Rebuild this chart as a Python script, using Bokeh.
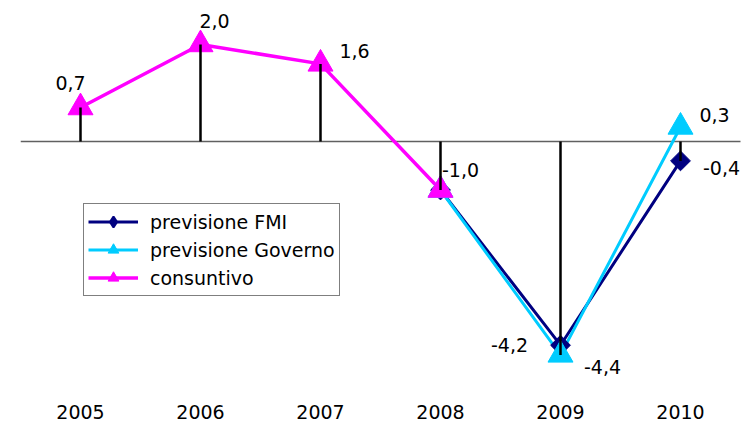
import math
from bokeh.plotting import figure
from bokeh.models import (ColumnDataSource, Range1d, FixedTicker, Legend, LegendItem)
from bokeh.core.properties import value
from bokeh.embed import file_html
from bokeh.resources import INLINE

nan = float("nan")
years = ["2005", "2006", "2007", "2008", "2009", "2010"]
consuntivo = [0.7, 2.0, 1.6, -1.0, nan, nan]
prev_fmi = [nan, nan, nan, -1.0, -4.2, -0.4]
prev_governo = [nan, nan, nan, -1.0, -4.4, 0.3]

xs = list(range(len(years)))

FONT = "DejaVu Sans"

p = figure(width=749, height=425, output_backend="svg", toolbar_location=None,
           x_range=Range1d(-0.5, -0.5 + 729 / 120), y_range=Range1d(-5.237, 2.907),
           min_border_left=20, min_border_right=0, min_border_top=0, min_border_bottom=30)
p.outline_line_color = None
p.xgrid.visible = False
p.ygrid.visible = False
p.yaxis.visible = False
p.background_fill_color = "white"

ax = p.xaxis[0]
ax.ticker = FixedTicker(ticks=xs)
ax.major_label_overrides = {i: y for i, y in zip(xs, years)}
ax.axis_line_color = None
ax.major_tick_line_color = None
ax.minor_tick_line_color = None
ax.major_label_text_font = FONT
ax.major_label_text_font_size = "19px"
ax.major_label_text_color = "black"
ax.major_label_standoff = 3

# category axis line at zero, across all category bands
p.segment(x0=[-0.5], y0=[0], x1=[len(years) - 0.5], y1=[0],
          line_color="#606060", line_width=1.5)

# series
NAVY = "#000080"
CYAN = "#00CCFF"
MAG = "#FF00FF"

l_fmi = p.line(xs, prev_fmi, line_color=NAVY, line_width=3)
l_gov = p.line(xs, prev_governo, line_color=CYAN, line_width=3)
l_con = p.line(xs, consuntivo, line_color=MAG, line_width=3.5)

# diamond (used by the legend) drawn under the rotated square
m_fmi_leg = p.scatter(xs, prev_fmi, marker="diamond", size=14,
                      fill_color=NAVY, line_color=NAVY, line_width=2)
m_fmi = p.scatter(xs, prev_fmi, marker="square", angle=math.pi / 4, size=14,
                  fill_color=NAVY, line_color=NAVY)
m_gov = p.scatter(xs, prev_governo, marker="triangle", size=25,
                  fill_color=CYAN, line_color=CYAN)
m_con = p.scatter(xs, consuntivo, marker="triangle", size=25,
                  fill_color=MAG, line_color=MAG)

# drop lines from the axis to the lowest value of each category
drop_end = []
for i in xs:
    vals = [s[i] for s in (consuntivo, prev_fmi, prev_governo) if not math.isnan(s[i])]
    drop_end.append(min(vals))
p.segment(x0=xs, y0=[0] * len(xs), x1=xs, y1=drop_end, line_color="black", line_width=2.5)

# data labels
def fmt(v):
    return f"{v:.1f}".replace(".", ",")

lab_x, lab_y, lab_t, dx, dy = [], [], [], [], []
con_off = [(-10, -25), (14, -23), (34, -13), (20, -20)]
for i, off in enumerate(con_off):
    lab_x.append(i); lab_y.append(consuntivo[i]); lab_t.append(fmt(consuntivo[i]))
    dx.append(off[0]); dy.append(off[1])
fmi_off = {4: (-51, 0), 5: (41, 7)}
for i, off in fmi_off.items():
    lab_x.append(i); lab_y.append(prev_fmi[i]); lab_t.append(fmt(prev_fmi[i]))
    dx.append(off[0]); dy.append(off[1])
gov_off = {4: (42, 12), 5: (34, -12)}
for i, off in gov_off.items():
    lab_x.append(i); lab_y.append(prev_governo[i]); lab_t.append(fmt(prev_governo[i]))
    dx.append(off[0]); dy.append(off[1])

src = ColumnDataSource(dict(x=lab_x, y=lab_y, t=lab_t, dx=dx, dy=dy))
p.text(x="x", y="y", text="t", x_offset="dx", y_offset="dy", source=src,
       text_font=value(FONT), text_font_size="19px", text_color="black",
       text_align="center", text_baseline="middle")

legend = Legend(items=[
    LegendItem(label="previsione FMI", renderers=[l_fmi, m_fmi_leg]),
    LegendItem(label="previsione Governo", renderers=[l_gov, m_gov]),
    LegendItem(label="consuntivo", renderers=[l_con, m_con]),
], location=(63, 99))
legend.border_line_color = "black"
legend.border_line_width = 1
legend.background_fill_color = "white"
legend.background_fill_alpha = 1
legend.label_text_font = FONT
legend.label_text_font_size = "19px"
legend.label_text_color = "black"
legend.glyph_width = 50
legend.glyph_height = 27
legend.label_height = 27
legend.spacing = 1
legend.padding = 4
legend.margin = 0
legend.label_standoff = 12
p.add_layout(legend, "center")

open("out.html", "w").write(file_html(p, INLINE))
